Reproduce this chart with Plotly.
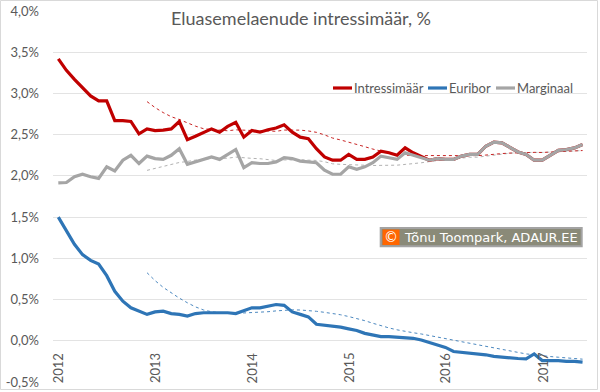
import plotly.graph_objects as go
import pandas as pd

# ---------------- data ----------------
months = pd.date_range("2012-01-01", periods=66, freq="MS").strftime("%Y-%m").tolist()

series_names = ["Intressimäär", "Euribor", "Marginaal"]

intressimaar = [3.42, 3.28, 3.17, 3.07, 2.97, 2.91, 2.91, 2.67, 2.67, 2.66,
                2.51, 2.57, 2.55, 2.555, 2.57, 2.66, 2.44, 2.48, 2.53, 2.57,
                2.53, 2.60, 2.65, 2.47, 2.55, 2.53, 2.56, 2.58, 2.62, 2.53,
                2.47, 2.45, 2.33, 2.23, 2.19, 2.19, 2.26, 2.20, 2.20, 2.23,
                2.30, 2.28, 2.25, 2.34, 2.28, 2.24, 2.19, 2.21, 2.20, 2.20,
                2.24, 2.26, 2.26, 2.36, 2.41, 2.40, 2.35, 2.29, 2.26, 2.19,
                2.19, 2.25, 2.31, 2.32, 2.34, 2.38]

euribor = [1.50, 1.34, 1.17, 1.045, 0.975, 0.93, 0.79, 0.60, 0.48, 0.40,
           0.355, 0.32, 0.35, 0.36, 0.33, 0.32, 0.30, 0.33, 0.34, 0.34,
           0.34, 0.34, 0.33, 0.37, 0.40, 0.40, 0.42, 0.44, 0.43, 0.35,
           0.32, 0.29, 0.20, 0.19, 0.18, 0.165, 0.145, 0.125, 0.09, 0.065,
           0.05, 0.05, 0.045, 0.035, 0.03, 0.01, -0.02, -0.05, -0.08, -0.13,
           -0.14, -0.15, -0.16, -0.17, -0.19, -0.20, -0.21, -0.215, -0.22, -0.16,
           -0.24, -0.24, -0.24, -0.25, -0.25, -0.26]

marginaal = [1.915, 1.92, 1.99, 2.02, 1.99, 1.97, 2.11, 2.06, 2.19, 2.25,
             2.15, 2.24, 2.21, 2.20, 2.25, 2.33, 2.14, 2.17, 2.19, 2.23,
             2.20, 2.26, 2.32, 2.10, 2.16, 2.15, 2.15, 2.17, 2.22, 2.21,
             2.18, 2.17, 2.16, 2.07, 2.02, 2.02, 2.11, 2.08, 2.11, 2.16,
             2.24, 2.22, 2.20, 2.28, 2.25, 2.22, 2.19, 2.21, 2.20, 2.20,
             2.24, 2.26, 2.26, 2.36, 2.41, 2.40, 2.35, 2.29, 2.26, 2.19,
             2.19, 2.25, 2.31, 2.32, 2.34, 2.38]

year_ticks = ["2012-01", "2013-01", "2014-01", "2015-01", "2016-01", "2017-01"]
year_labels = ["2012", "2013", "2014", "2015", "2016", "2017"]

y_tick_vals = [-0.5, 0.0, 0.5, 1.0, 1.5, 2.0, 2.5, 3.0, 3.5, 4.0]
y_tick_labels = ["-0,5%", "0,0%", "0,5%", "1,0%", "1,5%", "2,0%", "2,5%", "3,0%", "3,5%", "4,0%"]

title_text = "Eluasemelaenude intressimäär, %"
credit_text = "Tõnu Toompark, ADAUR.EE"

# ---------------- styles ----------------
colors = {"Intressimäär": "#C00000", "Euribor": "#2E75B6", "Marginaal": "#A5A5A5"}
values = {"Intressimäär": intressimaar, "Euribor": euribor, "Marginaal": marginaal}
TXT = "#595959"
FONT = "Lato"

# layout geometry (pixels)
L, R, T, B = 53, 13, 11, 10
W, H = 600, 392
PW, PH = W - L - R, H - T - B


def px_x(px):
    return (px - L) / PW


def px_y(py):
    return (H - B - py) / PH


fig = go.Figure()

# 12-month moving averages (dotted), drawn beneath the solid lines
for name in ["Marginaal", "Euribor", "Intressimäär"]:
    ma = pd.Series(values[name]).rolling(12).mean()
    fig.add_trace(go.Scatter(
        x=months, y=ma, mode="lines", showlegend=False, hoverinfo="skip",
        line=dict(color=colors[name], width=1, dash="dot"),
        opacity=0.85,
    ))

for name in series_names:
    fig.add_trace(go.Scatter(
        x=months, y=values[name], mode="lines", name=name, showlegend=False,
        line=dict(color=colors[name], width=3.2),
    ))

fig.update_layout(
    width=W, height=H,
    margin=dict(l=L, r=R, t=T, b=B, autoexpand=False),
    paper_bgcolor="white", plot_bgcolor="white",
    font=dict(family=FONT, size=13, color=TXT),
    showlegend=False,
)

fig.update_xaxes(
    type="category", categoryorder="array", categoryarray=months,
    range=[-0.66, 65.55], showgrid=False, zeroline=False, showline=False,
    showticklabels=False, ticks="", automargin=False,
)
fig.update_yaxes(
    range=[-0.5, 4.0], tickvals=y_tick_vals, ticktext=y_tick_labels,
    showgrid=True, gridcolor="#E3E3E3", gridwidth=1, zeroline=False,
    showline=False, ticks="", ticklabelstandoff=13, automargin=False,
    tickfont=dict(family=FONT, size=13, color=TXT),
)

annotations = []
# year labels inside the plot, rotated
for tv, tl in zip(year_ticks, year_labels):
    annotations.append(dict(
        x=tv, xref="x", y=0, yref="paper", text=tl, textangle=-90,
        showarrow=False, xanchor="center", yanchor="bottom", yshift=-3,
        font=dict(family=FONT, size=13, color=TXT),
    ))

# title with white background (interrupts top gridline)
annotations.append(dict(
    x=px_x(300.5), y=px_y(18.5), xref="paper", yref="paper", text=title_text,
    showarrow=False, xanchor="center", yanchor="middle", bgcolor="white",
    font=dict(family=FONT, size=18, color=TXT),
))

shapes = []
# chart border
shapes.append(dict(type="rect", xref="paper", yref="paper",
                   x0=px_x(0.5), x1=px_x(597.5), y0=px_y(389.5), y1=px_y(0.5),
                   line=dict(color="#D9D9D9", width=1), layer="below"))

# manual legend
leg_x = {"Intressimäär": 333, "Euribor": 428, "Marginaal": 496}
leg_y = 88
for name in series_names:
    shapes.append(dict(type="line", xref="paper", yref="paper",
                       x0=px_x(leg_x[name]), x1=px_x(leg_x[name] + 19),
                       y0=px_y(leg_y), y1=px_y(leg_y),
                       line=dict(color=colors[name], width=3.2)))
    annotations.append(dict(
        x=px_x(leg_x[name] + 19), y=px_y(leg_y), xref="paper", yref="paper",
        text=name, showarrow=False, xanchor="left", yanchor="middle",
        font=dict(family=FONT, size=13, color=TXT),
    ))

# credit box
shapes.append(dict(type="rect", xref="paper", yref="paper",
                   x0=px_x(380.7), x1=px_x(581.7), y0=px_y(246.3), y1=px_y(228),
                   fillcolor="#8A8A78", line=dict(color="#A3A3A3", width=2),
                   layer="above"))
shapes.append(dict(type="rect", xref="paper", yref="paper",
                   x0=px_x(382.5), x1=px_x(399.5), y0=px_y(245), y1=px_y(229.5),
                   fillcolor="#FF6600", line=dict(width=0), layer="above"))
annotations.append(dict(
    x=px_x(391), y=px_y(237.3), xref="paper", yref="paper", text="©",
    showarrow=False, xanchor="center", yanchor="middle",
    font=dict(family="DejaVu Sans", size=14, color="white"),
))
annotations.append(dict(
    x=px_x(401.5), y=px_y(237.3), xref="paper", yref="paper", text=credit_text,
    showarrow=False, xanchor="left", yanchor="middle",
    font=dict(family="DejaVu Sans", size=13, color="white"),
))

fig.update_layout(annotations=annotations, shapes=shapes)

fig.write_html(
    "out.html",
    config={"displayModeBar": False},
    post_script="document.body.style.margin='0';document.body.style.overflow='hidden';",
)
